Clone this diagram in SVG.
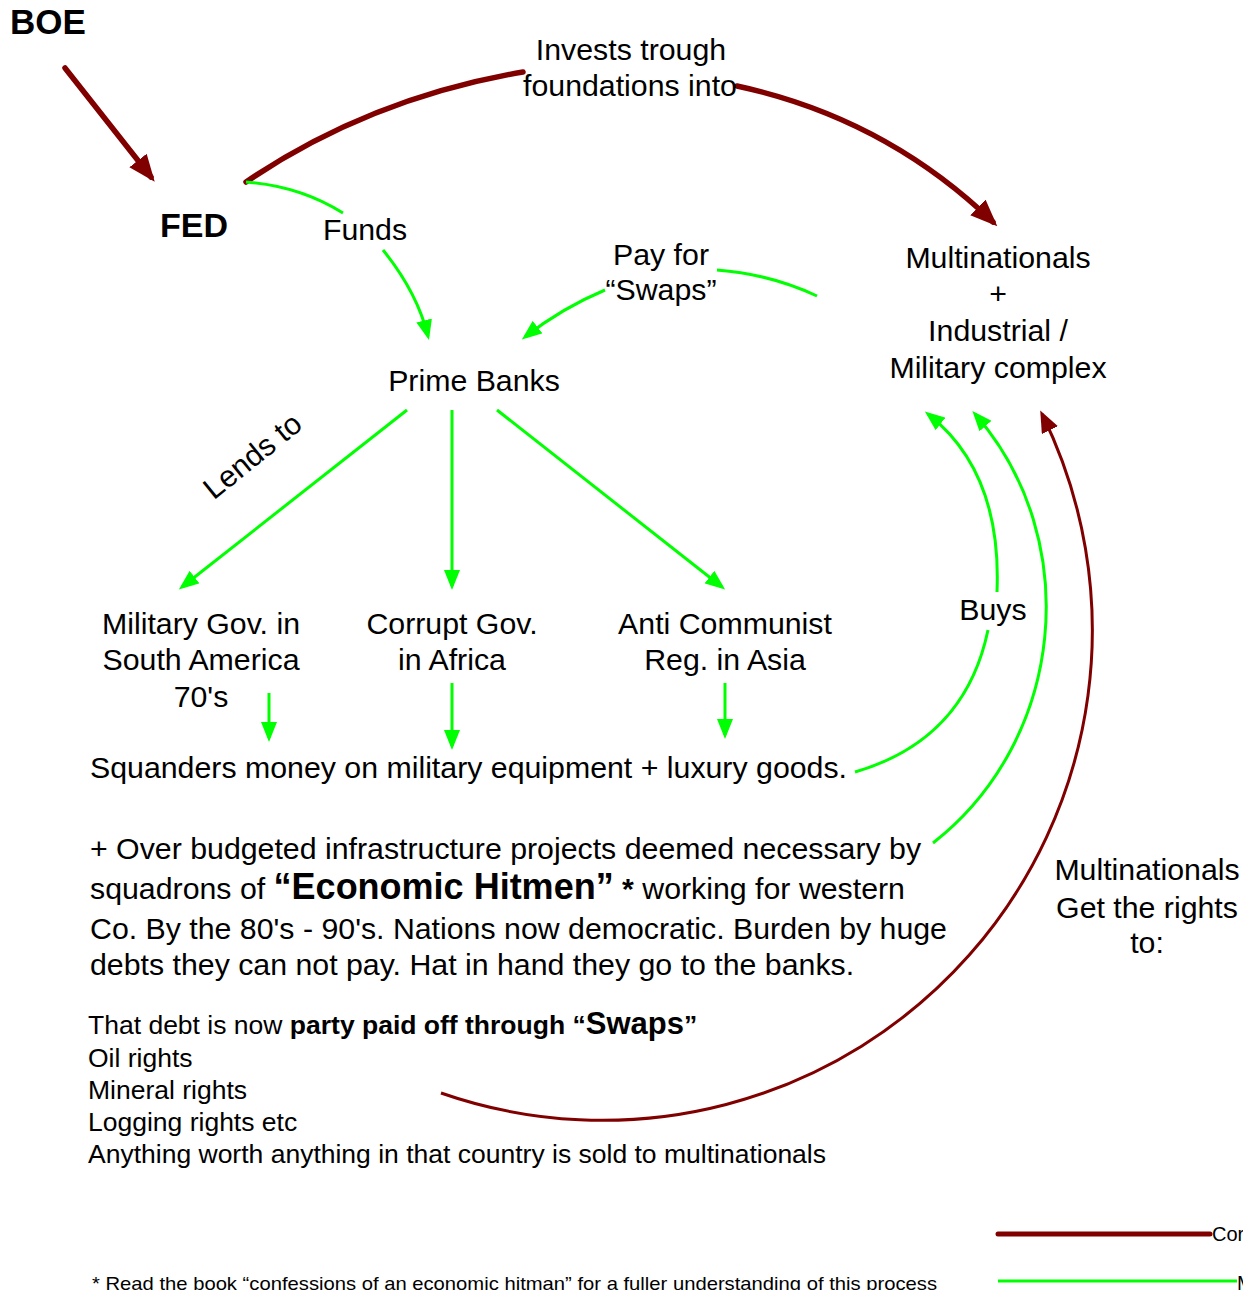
<svg xmlns="http://www.w3.org/2000/svg" width="1243" height="1290" viewBox="0 0 1243 1290">
<style>
text{font-family:"Liberation Sans",Arial,sans-serif;fill:#000;font-size:30.3px}
.c{text-anchor:middle}
.b{font-weight:bold}
.s{font-size:26.5px}
.boe{font-size:35px}
.fed{font-size:34px}
.foot{font-size:19px}
.leg{font-size:20px}
.red{fill:none;stroke:#800000;stroke-width:5.5;stroke-linecap:round}
.redt{fill:none;stroke:#800000;stroke-width:3}
.grn{fill:none;stroke:#00ff00;stroke-width:3}
</style>
<defs>
<marker id="ag" markerUnits="userSpaceOnUse" markerWidth="20" markerHeight="16" refX="16" refY="8" orient="auto" viewBox="0 0 20 16"><path d="M0,0 L20,8 L0,16 z" fill="#00ff00"/></marker>
<marker id="ar" markerUnits="userSpaceOnUse" markerWidth="27" markerHeight="22" refX="21" refY="11" orient="auto" viewBox="0 0 27 22"><path d="M0,0 L27,11 L0,22 z" fill="#800000"/></marker>
<marker id="art" markerUnits="userSpaceOnUse" markerWidth="22" markerHeight="18" refX="18" refY="9" orient="auto" viewBox="0 0 22 18"><path d="M0,0 L22,9 L0,18 z" fill="#800000"/></marker>
</defs>
<rect width="1243" height="1290" fill="#fff"/>

<g id="connectors">
  <path class="red" d="M65,68 L151,177" marker-end="url(#ar)"/>
  <path class="red" d="M246,182 Q370,98 523,72"/>
  <path class="red" d="M737,86 Q885,118 993,222" marker-end="url(#ar)"/>
  <path class="grn" d="M246,182 Q300,186 343,213"/>
  <path class="grn" d="M383,250 Q417,292 428,336" marker-end="url(#ag)"/>
  <path class="grn" d="M817,296 Q770,274 717,270"/>
  <path class="grn" d="M605,290 Q562,308 525,337" marker-end="url(#ag)"/>
  <path class="grn" d="M407,410 L182,587" marker-end="url(#ag)"/>
  <path class="grn" d="M452,410 L452,586" marker-end="url(#ag)"/>
  <path class="grn" d="M497,410 L722,587" marker-end="url(#ag)"/>
  <path class="grn" d="M269,693 L269,738" marker-end="url(#ag)"/>
  <path class="grn" d="M452,683 L452,746" marker-end="url(#ag)"/>
  <path class="grn" d="M725,683 L725,735" marker-end="url(#ag)"/>
  <path class="grn" d="M855,772 Q965,740 988,630"/>
  <path class="grn" d="M997,592 Q1002,472 928,414" marker-end="url(#ag)"/>
  <path class="grn" d="M933,843 C1065,740 1085,540 975,414" marker-end="url(#ag)"/>
  <path class="redt" d="M441,1093 A490,490 0 0 0 1042,414" marker-end="url(#art)"/>
  <text class="c" x="631" y="60">Invests trough</text>
  <text class="c" x="630" y="96">foundations into</text>
  <text class="c" x="365" y="240">Funds</text>
  <text class="c" x="661" y="265">Pay for</text>
  <text class="c" x="661" y="300">“Swaps”</text>
  <text class="c" transform="translate(259,464) rotate(-39)">Lends to</text>
  <text class="c" x="993" y="620">Buys</text>
</g>

<g id="boe"><text class="b boe" x="10" y="34">BOE</text></g>
<g id="fed"><text class="b fed" x="160" y="237">FED</text></g>
<g id="multinationals">
  <text class="c" x="998" y="268">Multinationals</text>
  <text class="c" x="998" y="304">+</text>
  <text class="c" x="998" y="341">Industrial /</text>
  <text class="c" x="998" y="378">Military complex</text>
</g>
<g id="prime-banks"><text class="c" x="474" y="391">Prime Banks</text></g>
<g id="gov-south-america">
  <text class="c" x="201" y="634">Military Gov. in</text>
  <text class="c" x="201" y="670">South America</text>
  <text class="c" x="201" y="707">70's</text>
</g>
<g id="gov-africa">
  <text class="c" x="452" y="634">Corrupt Gov.</text>
  <text class="c" x="452" y="670">in Africa</text>
</g>
<g id="gov-asia">
  <text class="c" x="725" y="634">Anti Communist</text>
  <text class="c" x="725" y="670">Reg. in Asia</text>
</g>
<g id="squanders"><text x="90" y="778">Squanders money on military equipment + luxury goods.</text></g>
<g id="infrastructure">
  <text x="90" y="859">+ Over budgeted infrastructure projects deemed necessary by</text>
  <text x="90" y="899">squadrons of <tspan class="b" font-size="36">“Economic Hitmen”</tspan><tspan class="b"> *</tspan> working for western</text>
  <text x="90" y="939">Co. By the 80's - 90's. Nations now democratic. Burden by huge</text>
  <text x="90" y="975">debts they can not pay. Hat in hand they go to the banks.</text>
</g>
<g id="swaps-debt">
  <text class="s" x="88" y="1034">That debt is now <tspan class="b">party paid off through “</tspan><tspan class="b" font-size="31">Swaps</tspan><tspan class="b">”</tspan></text>
  <text class="s" x="88" y="1067">Oil rights</text>
  <text class="s" x="88" y="1099">Mineral rights</text>
  <text class="s" x="88" y="1131">Logging rights etc</text>
  <text class="s" x="88" y="1163">Anything worth anything in that country is sold to multinationals</text>
</g>
<g id="rights">
  <text class="c" x="1147" y="880">Multinationals</text>
  <text class="c" x="1147" y="918">Get the rights</text>
  <text class="c" x="1147" y="953">to:</text>
</g>
<g id="footnote"><text class="foot" x="92" y="1290" textLength="845" lengthAdjust="spacingAndGlyphs">* Read the book “confessions of an economic hitman” for a fuller understanding of this process</text></g>
<g id="legend">
  <line x1="998" y1="1234" x2="1210" y2="1234" stroke="#800000" stroke-width="5" stroke-linecap="round"/>
  <text class="leg" x="1212" y="1241">Cor</text>
  <line x1="998" y1="1281" x2="1237" y2="1281" stroke="#00ff00" stroke-width="3"/>
  <text class="leg" x="1237" y="1290">M</text>
</g>
</svg>
